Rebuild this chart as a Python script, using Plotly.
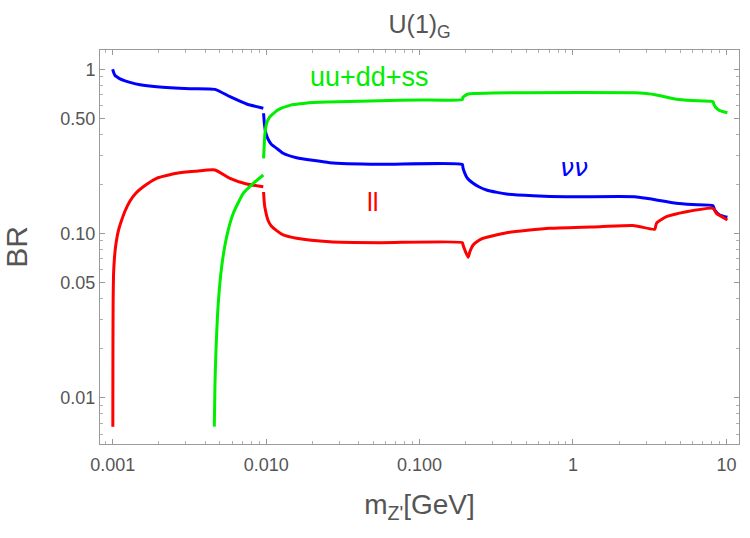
import math
import plotly.graph_objects as go

# ---- data ----
nu_x = [0.000998, 0.0010045, 0.001017, 0.001035, 0.001067, 0.001116, 0.001203, 0.001296, 0.001506, 0.001934,
        0.00319, 0.00464, 0.00581, 0.00746, 0.00958,
        None,
        0.00962, 0.00975, 0.00995, 0.0103, 0.0108, 0.0117, 0.0129, 0.0158, 0.026, 0.055, 0.19,
        0.192, 0.1973, 0.205, 0.2234, 0.245, 0.2732, 0.32, 0.3687, 0.55, 0.9, 2.527, 3.0, 3.5, 4.724, 6.0,
        8.178, 8.39, 9.046, 10.15]
nu_y = [1.0, 0.983, 0.949, 0.917, 0.898, 0.875, 0.851, 0.833, 0.806, 0.783,
        0.762, 0.755, 0.681, 0.615, 0.579,
        None,
        0.540, 0.46, 0.41, 0.375, 0.35, 0.33, 0.308, 0.2894, 0.27, 0.2638, 0.263,
        0.25, 0.2326, 0.217, 0.2021, 0.192, 0.184, 0.178, 0.174, 0.170, 0.1675, 0.1675, 0.164, 0.160, 0.1527, 0.150,
        0.1477, 0.139, 0.1297, 0.1255]

ll_x = [0.0010015, 0.001003, 0.001006, 0.001012, 0.001024, 0.001043, 0.001067, 0.0011, 0.001144, 0.001203,
        0.001296, 0.001418, 0.001582, 0.001934, 0.002612, 0.003437, 0.00464, 0.00581, 0.00746, 0.00958,
        None,
        0.00962, 0.00975, 0.00995, 0.0103, 0.0108, 0.0117, 0.0129, 0.0158, 0.026, 0.055, 0.19,
        0.192, 0.1973, 0.2073, 0.2127, 0.2234, 0.24, 0.2597, 0.3687, 0.7063, 1.5, 2.527, 3.412,
        3.5, 4.066, 5.488, 8.178, 8.61, 10.15]
ll_y = [0.00666, 0.0195, 0.0394, 0.0559, 0.069, 0.0828, 0.0952, 0.108, 0.1209, 0.1371,
        0.1577, 0.1765, 0.1928, 0.2169, 0.2326, 0.2392, 0.2436, 0.2169, 0.2002, 0.1928,
        None,
        0.179, 0.15, 0.135, 0.12, 0.111, 0.104, 0.098, 0.0935, 0.0891, 0.0879, 0.088,
        0.0851, 0.0793, 0.0716, 0.0774, 0.0851, 0.090, 0.0935, 0.1011, 0.1075, 0.110, 0.1116, 0.106,
        0.1154, 0.1265, 0.1357, 0.1424, 0.1327, 0.1209]

qq_x = [0.004591, 0.00464, 0.00471, 0.004875, 0.005129, 0.005529, 0.006105, 0.00709, 0.008241, 0.00958,
        None,
        0.00962, 0.00972, 0.00982, 0.01008, 0.0105, 0.01113, 0.0117, 0.0127, 0.0136, 0.015, 0.0175, 0.02026,
        0.03, 0.0551, 0.1, 0.19,
        0.1915, 0.1973, 0.205, 0.2234, 0.3, 0.5, 2.527, 3.0, 3.5, 4.724, 6.0, 8.178, 8.3, 8.6, 9.046, 10.15]
qq_y = [0.00666, 0.01224, 0.0195, 0.0376, 0.0628, 0.0956, 0.1327, 0.1757, 0.2021, 0.2272,
        None,
        0.287, 0.35, 0.4075, 0.469, 0.51, 0.537, 0.56, 0.582, 0.595, 0.61, 0.62, 0.627,
        0.635, 0.644, 0.65, 0.655,
        0.675, 0.69, 0.705, 0.712, 0.718, 0.72, 0.72, 0.712, 0.698, 0.657, 0.645, 0.635, 0.61, 0.58, 0.56, 0.544]

x_tickvals = [0.001, 0.01, 0.1, 1, 10]
x_ticktext = ["0.001", "0.010", "0.100", "1", "10"]
y_tickvals = [0.01, 0.05, 0.1, 0.5, 1]
y_ticktext = ["0.01", "0.05", "0.10", "0.50", "1"]

x_minor = [m * 10.0 ** e for e in range(-4, 2) for m in range(2, 10)]
y_minor = [m * 10.0 ** e for e in range(-3, 1) for m in range(2, 10) if not (m == 5 and e in (-2, -1))]

BLUE = "#0000ff"
RED = "#ff0000"
GREEN = "#00ee00"
GRAY = "#555555"
FONT = "Liberation Sans"

fig = go.Figure()
for xs, ys, col in [(nu_x, nu_y, BLUE), (ll_x, ll_y, RED), (qq_x, qq_y, GREEN)]:
    fig.add_trace(go.Scatter(x=xs, y=ys, mode="lines", connectgaps=False,
                             line=dict(color=col, width=3, shape="spline", smoothing=0.5),
                             showlegend=False, hoverinfo="skip"))

axis_common = dict(
    type="log", showgrid=False, zeroline=False, showline=True, linecolor="#9a9a9a", linewidth=1,
    mirror="allticks", ticks="inside", ticklen=5, tickcolor="#9a9a9a", tickwidth=1,
    tickfont=dict(family=FONT, size=18, color=GRAY),
)

fig.update_layout(
    width=750, height=538,
    margin=dict(l=100, r=11, t=50, b=94),
    plot_bgcolor="white", paper_bgcolor="white",
    title=dict(text="U(1)<sub>G</sub>", x=0.5595, xanchor="center", y=0.955, yanchor="middle",
               font=dict(family=FONT, size=25, color=GRAY)),
    xaxis=dict(**axis_common, range=[math.log10(0.000826), math.log10(12.08)],
               tickmode="array", tickvals=x_tickvals, ticktext=x_ticktext, ticklabelstandoff=4,
               minor=dict(tickmode="array", tickvals=x_minor, ticks="inside", ticklen=3,
                          tickcolor="#b0b0b0", showgrid=False),
               title=dict(text="m<sub>Z'</sub>[GeV]", font=dict(family=FONT, size=28, color=GRAY), standoff=20)),
    yaxis=dict(**axis_common, range=[math.log10(0.00522), math.log10(1.311)],
               tickmode="array", tickvals=y_tickvals, ticktext=y_ticktext, ticklabelstandoff=0,
               minor=dict(tickmode="array", tickvals=y_minor, ticks="inside", ticklen=3,
                          tickcolor="#b0b0b0", showgrid=False),
               title=dict(text="BR", font=dict(family=FONT, size=30, color=GRAY), standoff=24)),
)

fig.add_annotation(x=math.log10(0.0475), y=math.log10(0.895), text="uu+dd+ss", showarrow=False,
                   font=dict(family=FONT, size=27, color=GREEN))
fig.add_annotation(x=math.log10(1.017), y=math.log10(0.2506), text="<i>νν</i>", showarrow=False,
                   font=dict(family="DejaVu Sans", size=25, color=BLUE))
fig.add_annotation(x=math.log10(0.0496), y=math.log10(0.1555), text="ll", showarrow=False,
                   font=dict(family=FONT, size=26, color=RED))

fig.write_html("out.html")
